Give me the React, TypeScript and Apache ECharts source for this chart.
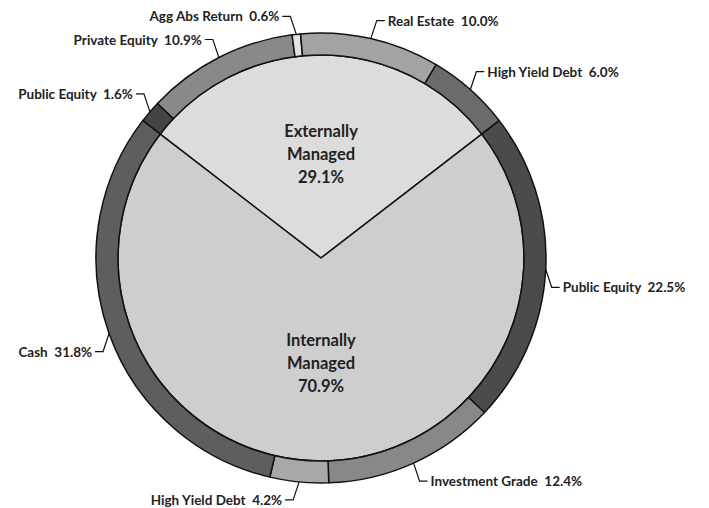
import React, { useEffect, useRef } from "react";
import * as echarts from "echarts";

const innerNames = ["Externally\nManaged", "Internally\nManaged"];
const innerValues = [29.1, 70.9];
const innerColors = ["#dcdcdc", "#cecece"];

const outerNames = [
  "Public Equity",
  "Private Equity",
  "Agg Abs Return",
  "Real Estate",
  "High Yield Debt",
  "Public Equity",
  "Investment Grade",
  "High Yield Debt",
  "Cash",
];
const outerValues = [1.6, 10.9, 0.6, 10.0, 6.0, 22.5, 12.4, 4.2, 31.8];
const outerColors = [
  "#444444",
  "#898989",
  "#e2e2e2",
  "#a3a3a3",
  "#6b6b6b",
  "#4b4b4b",
  "#888888",
  "#a8a8a8",
  "#5e5e5e",
];

const FONT = "Lato, 'Open Sans', sans-serif";

export default function App() {
  const ref = useRef<HTMLDivElement>(null);
  useEffect(() => {
    document.body.style.margin = "0";
    if (!ref.current) return;
    const chart = echarts.init(ref.current, undefined, { renderer: "svg" });
    const startAngle = 90 + (innerValues[0] * 3.6) / 2;
    const center = [321, 258];
    chart.setOption({
      animation: false,
      backgroundColor: "#ffffff",
      series: [
        {
          type: "pie",
          center,
          radius: [0, 203],
          startAngle,
          clockwise: true,
          silent: true,
          data: innerNames.map((n, i) => ({
            name: n,
            value: innerValues[i],
            itemStyle: { color: innerColors[i] },
          })),
          itemStyle: { borderColor: "#111", borderWidth: 1.5 },
          label: {
            show: true,
            position: "inside",
            formatter: (p: any) => `${p.name}\n${p.value.toFixed(1)}%`,
            fontFamily: FONT,
            fontWeight: "bold",
            fontSize: 16.5,
            lineHeight: 23,
            color: "#222222",
            align: "center",
          },
          labelLine: { show: false },
        },
        {
          type: "pie",
          center,
          radius: [203, 225],
          startAngle,
          clockwise: true,
          silent: true,
          data: outerNames.map((n, i) => ({
            name: n,
            value: outerValues[i],
            itemStyle: { color: outerColors[i] },
          })),
          itemStyle: { borderColor: "#111", borderWidth: 1.5 },
          label: {
            show: true,
            position: "outside",
            overflow: "none",
            edgeDistance: 0,
            formatter: (p: any) => `${p.name}  ${p.value.toFixed(1)}%`,
            fontFamily: FONT,
            fontWeight: "bold",
            fontSize: 13.5,
            color: "#222222",
          },
          labelLine: {
            show: true,
            length: 15,
            length2: 7,
            smooth: false,
            lineStyle: { color: "#111", width: 1.2 },
          },
          labelLayout: (params: any) => {
            const pts = params.labelLinePoints;
            if (!pts) return {};
            const a = pts[0];
            const b = pts[1];
            const sx = b[0] - a[0] >= 0 ? 1 : -1;
            const sy = b[1] - a[1] >= 0 ? 1 : -1;
            const elbow = [a[0] + sx * 6, a[1] + sy * 18];
            const end = [elbow[0] + sx * 8, elbow[1]];
            return {
              x: end[0] + sx * 3,
              y: end[1],
              align: sx > 0 ? "left" : "right",
              verticalAlign: "middle",
              labelLinePoints: [a, elbow, end],
            };
          },
        },
      ],
    });
    return () => chart.dispose();
  }, []);
  return <div ref={ref} style={{ width: 709, height: 508 }} />;
}
